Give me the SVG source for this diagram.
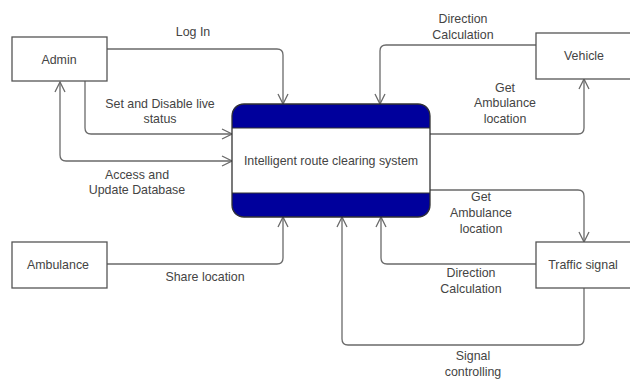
<svg xmlns="http://www.w3.org/2000/svg" width="630" height="379" viewBox="0 0 630 379">
  <style>
    .box { fill: #ffffff; stroke: #555555; stroke-width: 1.3; }
    .lbl { font-family: "Liberation Sans", Arial, sans-serif; font-size: 12.4px; fill: #444444; text-anchor: middle; }
    .flow { fill: none; stroke: #6a6a6a; stroke-width: 1.3; stroke-linejoin: round; }
    .band { fill: #00009c; }
  </style>
  <defs>
    <marker id="arr" viewBox="0 0 12 12" refX="11" refY="6" markerWidth="12" markerHeight="12" markerUnits="userSpaceOnUse" orient="auto-start-reverse">
      <path d="M1,1 L11,6 L1,11" fill="none" stroke="#6a6a6a" stroke-width="1.3"/>
    </marker>
  </defs>
  <rect width="630" height="379" fill="#ffffff"/>

  <g id="connectors">
    <!-- Log In -->
    <path class="flow" d="M107,49 H277 Q283,49 283,55 V104" marker-end="url(#arr)"/>
    <!-- Set and Disable live status -->
    <path class="flow" d="M85,81 V128 Q85,134 91,134 H232" marker-end="url(#arr)"/>
    <!-- Access and Update Database (both ways) -->
    <path class="flow" d="M60,82 V155 Q60,161 66,161 H232" marker-start="url(#arr)" marker-end="url(#arr)"/>
    <!-- Direction Calculation from Vehicle -->
    <path class="flow" d="M536,45 H386 Q380,45 380,51 V104" marker-end="url(#arr)"/>
    <!-- Get Ambulance location to Vehicle -->
    <path class="flow" d="M430,134 H578 Q584,134 584,128 V79" marker-end="url(#arr)"/>
    <!-- Get Ambulance location to Traffic signal -->
    <path class="flow" d="M430,190 H578 Q584,190 584,196 V242" marker-end="url(#arr)"/>
    <!-- Direction Calculation from Traffic signal -->
    <path class="flow" d="M536,264 H387 Q381,264 381,258 V217" marker-end="url(#arr)"/>
    <!-- Signal controlling -->
    <path class="flow" d="M584,288 V339 Q584,345 578,345 H348 Q342,345 342,339 V217" marker-end="url(#arr)"/>
    <!-- Share location -->
    <path class="flow" d="M107,264 H277 Q283,264 283,258 V217" marker-end="url(#arr)"/>
  </g>

  <g id="edge-labels">
    <text class="lbl" x="193" y="36">Log In</text>
    <text class="lbl" x="160" y="108">Set and Disable live</text>
    <text class="lbl" x="160" y="123">status</text>
    <text class="lbl" x="137" y="179">Access and</text>
    <text class="lbl" x="137" y="194">Update Database</text>
    <text class="lbl" x="463" y="23">Direction</text>
    <text class="lbl" x="463" y="39">Calculation</text>
    <text class="lbl" x="505" y="92">Get</text>
    <text class="lbl" x="505" y="107">Ambulance</text>
    <text class="lbl" x="505" y="123">location</text>
    <text class="lbl" x="481" y="201">Get</text>
    <text class="lbl" x="481" y="217">Ambulance</text>
    <text class="lbl" x="481" y="233">location</text>
    <text class="lbl" x="471" y="277">Direction</text>
    <text class="lbl" x="471" y="293">Calculation</text>
    <text class="lbl" x="205" y="281">Share location</text>
    <text class="lbl" x="473" y="360">Signal</text>
    <text class="lbl" x="473" y="376">controlling</text>
  </g>

  <g id="admin">
    <rect class="box" x="12" y="37" width="95" height="44"/>
    <text class="lbl" x="59" y="64">Admin</text>
  </g>

  <g id="ambulance">
    <rect class="box" x="12" y="242" width="95" height="46"/>
    <text class="lbl" x="58" y="269">Ambulance</text>
  </g>

  <g id="vehicle">
    <rect class="box" x="536" y="33" width="96" height="46"/>
    <text class="lbl" x="584" y="60">Vehicle</text>
  </g>

  <g id="traffic-signal">
    <rect class="box" x="536" y="242" width="96" height="46"/>
    <text class="lbl" x="583" y="269">Traffic signal</text>
  </g>

  <g id="route-system">
    <rect x="232" y="104" width="198" height="113" rx="12" ry="12" fill="#ffffff"/>
    <path class="band" d="M232,128 V116 Q232,104 244,104 H418 Q430,104 430,116 V128 Z"/>
    <path class="band" d="M232,193 V205 Q232,217 244,217 H418 Q430,217 430,205 V193 Z"/>
    <rect x="232" y="104" width="198" height="113" rx="12" ry="12" fill="none" stroke="#333333" stroke-width="1.3"/>
    <line x1="232" y1="128" x2="430" y2="128" stroke="#333333" stroke-width="1"/>
    <line x1="232" y1="193" x2="430" y2="193" stroke="#333333" stroke-width="1"/>
    <text class="lbl" x="331" y="165">Intelligent route clearing system</text>
  </g>
</svg>
